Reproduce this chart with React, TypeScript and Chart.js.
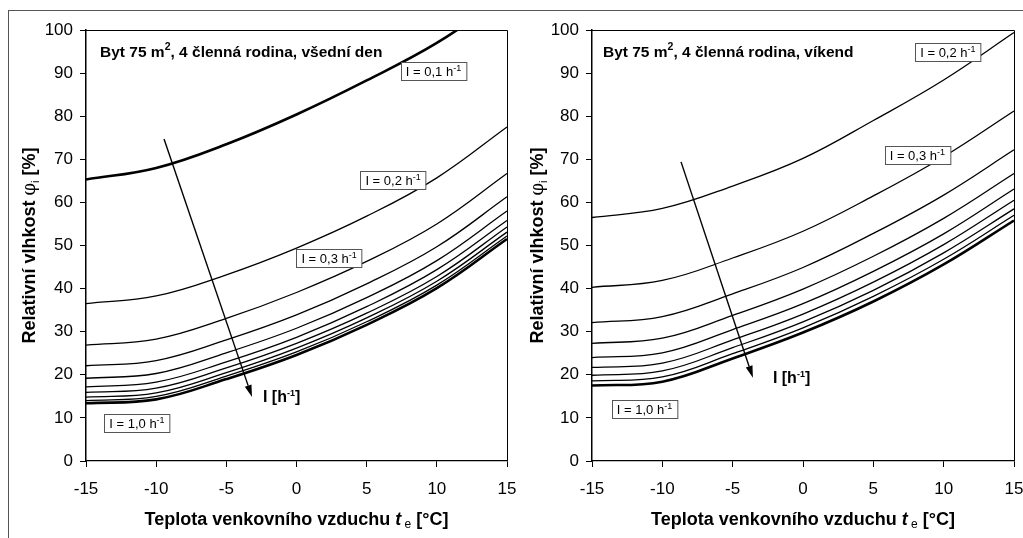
import React, { useEffect, useRef } from "react";
import { Chart, registerables } from "chart.js";

Chart.register(...registerables);

// ---------- DATA ----------
const temps = [-15, -10, -5, 0, 5, 10, 15];
const yTickStep = 10;
const xTickStep = 5;

// Weekday (všední den), air change rates I = 0.1 ... 1.0 h-1
const wdI01 = [65.3, 68.0, 73.5, 80.4, 88.3, 97.0, 108.0];
const wdI02 = [36.5, 38.3, 43.2, 49.4, 56.8, 65.7, 77.5];
const wdI03 = [26.9, 28.3, 33.1, 39.1, 46.3, 55.0, 66.7];
const wdI04 = [22.1, 23.3, 28.1, 33.9, 41.1, 49.7, 61.3];
const wdI05 = [19.2, 20.3, 25.1, 30.8, 37.9, 46.5, 58.0];
const wdI06 = [17.2, 18.3, 23.0, 28.7, 35.8, 44.4, 55.8];
const wdI07 = [15.9, 16.9, 21.6, 27.3, 34.3, 42.8, 54.3];
const wdI08 = [14.8, 15.8, 20.5, 26.2, 33.2, 41.7, 53.1];
const wdI09 = [14.0, 15.0, 19.7, 25.3, 32.3, 40.8, 52.2];
const wdI10 = [13.4, 14.3, 19.0, 24.6, 31.6, 40.1, 51.5];

// Weekend (víkend), I = 0.2 ... 1.0 h-1
const weI02 = [56.5, 58.6, 63.8, 70.2, 79.0, 88.4, 99.4];
const weI03 = [40.3, 41.9, 47.1, 53.3, 61.5, 70.6, 81.2];
const weI04 = [32.1, 33.5, 38.8, 44.9, 52.8, 61.7, 72.2];
const weI05 = [27.3, 28.5, 33.8, 39.9, 47.5, 56.3, 66.7];
const weI06 = [24.0, 25.1, 30.5, 36.5, 44.0, 52.7, 63.1];
const weI07 = [21.7, 22.7, 28.1, 34.1, 41.5, 50.2, 60.5];
const weI08 = [19.9, 20.9, 26.3, 32.3, 39.6, 48.3, 58.5];
const weI09 = [18.6, 19.5, 24.9, 30.9, 38.2, 46.8, 57.0];
const weI10 = [17.5, 18.4, 23.8, 29.8, 37.0, 45.6, 55.8];

const weekdaySeries = [wdI01, wdI02, wdI03, wdI04, wdI05, wdI06, wdI07, wdI08, wdI09, wdI10];
const weekendSeries = [weI02, weI03, weI04, weI05, weI06, weI07, weI08, weI09, weI10];

const weekdayTitle = ["Byt 75 m", "2", ", 4 členná rodina, všední den"];
const weekendTitle = ["Byt 75 m", "2", ", 4 členná rodina, víkend"];

const weekdayLabels = ["I = 0,1 h", "I = 0,2 h", "I = 0,3 h", "I = 1,0 h"];
const weekendLabels = ["I = 0,2 h", "I = 0,3 h", "I = 1,0 h"];

const xTitle = ["Teplota venkovního vzduchu ", "t", " e", " [°C]"];
const yTitle = ["Relativní vlhkost ", "φ", "i", " [%]"];
const arrowText = ["I [h", "-1", "]"];

// ---------- STYLE / LAYOUT ----------
const FF = '"Liberation Sans", Arial, Helvetica, sans-serif';
const bold = (n: number) => `bold ${n}px ${FF}`;
const reg = (n: number) => `${n}px ${FF}`;

type Seg = { t: string; f: string; dy?: number };

function segWidth(ctx: CanvasRenderingContext2D, segs: Seg[]) {
  let w = 0;
  for (const s of segs) {
    ctx.font = s.f;
    w += ctx.measureText(s.t).width;
  }
  return w;
}

function drawSegs(ctx: CanvasRenderingContext2D, segs: Seg[], x: number, y: number, align: "left" | "center") {
  const w = segWidth(ctx, segs);
  let cx = align === "center" ? x - w / 2 : x;
  ctx.textAlign = "left";
  ctx.textBaseline = "alphabetic";
  ctx.fillStyle = "#000";
  for (const s of segs) {
    ctx.font = s.f;
    ctx.fillText(s.t, cx, y + (s.dy || 0));
    cx += ctx.measureText(s.t).width;
  }
  return w;
}

type Panel = {
  series: number[][];
  thick: boolean[];
  yAxisW: number;
  padRight: number;
  title: string[];
  titlePos: [number, number];
  boxes: { text: string; x: number; y: number }[];
  arrow: [number, number, number, number];
  arrowLabel: [number, number];
  yTitleX: number;
};

const leftPanel: Panel = {
  series: weekdaySeries,
  thick: weekdaySeries.map((_, i) => i === 0 || i === weekdaySeries.length - 1),
  yAxisW: 86,
  padRight: 23,
  title: weekdayTitle,
  titlePos: [-14.0, 93.7],
  boxes: [
    { text: weekdayLabels[0], x: 9.76, y: 90.4 },
    { text: weekdayLabels[1], x: 6.88, y: 65.1 },
    { text: weekdayLabels[2], x: 2.32, y: 47.0 },
    { text: weekdayLabels[3], x: -11.37, y: 8.8 },
  ],
  arrow: [-9.44, 74.7, -3.17, 14.85],
  arrowLabel: [-2.39, 15.1],
  yTitleX: 28,
};

const rightPanel: Panel = {
  series: weekendSeries,
  thick: weekendSeries.map((_, i) => i === weekendSeries.length - 1),
  yAxisW: 80,
  padRight: 28,
  title: weekendTitle,
  titlePos: [-14.22, 93.7],
  boxes: [
    { text: weekendLabels[0], x: 10.3, y: 95.0 },
    { text: weekendLabels[1], x: 8.13, y: 70.9 },
    { text: weekendLabels[2], x: -11.27, y: 12.1 },
  ],
  arrow: [-8.67, 69.4, -3.56, 19.3],
  arrowLabel: [-2.14, 19.5],
  yTitleX: 24,
};

function makeChart(canvas: HTMLCanvasElement, p: Panel) {
  const annotate = {
    id: "annotate",
    afterDatasetsDraw(chart: any) {
      const ctx: CanvasRenderingContext2D = chart.ctx;
      const xs = chart.scales.x;
      const ys = chart.scales.y;
      const ca = chart.chartArea;
      ctx.save();
      // frame top/right
      ctx.strokeStyle = "#000";
      ctx.lineWidth = 1;
      ctx.beginPath();
      ctx.moveTo(ca.left, ca.top + 0.5);
      ctx.lineTo(ca.right + 0.5, ca.top + 0.5);
      ctx.lineTo(ca.right + 0.5, ca.bottom);
      ctx.stroke();

      // arrow
      const [ax1, ay1, ax2, ay2] = p.arrow;
      const x1 = xs.getPixelForValue(ax1), y1 = ys.getPixelForValue(ay1);
      const x2 = xs.getPixelForValue(ax2), y2 = ys.getPixelForValue(ay2);
      const ang = Math.atan2(y2 - y1, x2 - x1);
      const hl = 12, hw = 3.5;
      const bx = x2 - hl * Math.cos(ang), by = y2 - hl * Math.sin(ang);
      ctx.lineWidth = 1.4;
      ctx.beginPath();
      ctx.moveTo(x1, y1);
      ctx.lineTo(bx, by);
      ctx.stroke();
      ctx.fillStyle = "#000";
      ctx.beginPath();
      ctx.moveTo(x2, y2);
      ctx.lineTo(bx + hw * Math.sin(ang), by - hw * Math.cos(ang));
      ctx.lineTo(bx - hw * Math.sin(ang), by + hw * Math.cos(ang));
      ctx.closePath();
      ctx.fill();

      // arrow label
      const lx = xs.getPixelForValue(p.arrowLabel[0]);
      const ly = ys.getPixelForValue(p.arrowLabel[1]);
      drawSegs(ctx, [
        { t: arrowText[0], f: bold(16) },
        { t: arrowText[1], f: bold(9), dy: -6 },
        { t: arrowText[2], f: bold(16) },
      ], lx, ly + 6, "left");

      // title
      const tx = xs.getPixelForValue(p.titlePos[0]);
      const ty = ys.getPixelForValue(p.titlePos[1]);
      drawSegs(ctx, [
        { t: p.title[0], f: bold(15.5) },
        { t: p.title[1], f: bold(10.5), dy: -7 },
        { t: p.title[2], f: bold(15.5) },
      ], tx, ty, "left");

      // boxes
      for (const b of p.boxes) {
        const segs: Seg[] = [
          { t: b.text, f: reg(13) },
          { t: "-1", f: reg(9), dy: -5 },
        ];
        const w = segWidth(ctx, segs) + 10;
        const h = 18;
        const cx = xs.getPixelForValue(b.x);
        const cy = ys.getPixelForValue(b.y);
        const left = Math.round(cx - w / 2) + 0.5;
        const top = Math.round(cy - h / 2) + 0.5;
        ctx.fillStyle = "#fff";
        ctx.fillRect(left, top, w, h);
        ctx.strokeStyle = "#555";
        ctx.lineWidth = 1;
        ctx.strokeRect(left, top, w, h);
        drawSegs(ctx, segs, cx, cy + 5, "center");
      }
      ctx.restore();
    },
    afterDraw(chart: any) {
      const ctx: CanvasRenderingContext2D = chart.ctx;
      const ca = chart.chartArea;
      ctx.save();
      // x-axis title
      drawSegs(ctx, [
        { t: xTitle[0], f: bold(18) },
        { t: xTitle[1], f: `italic bold 18px ${FF}` },
        { t: xTitle[2], f: reg(12), dy: 3 },
        { t: xTitle[3], f: bold(18) },
      ], (ca.left + ca.right) / 2, 525, "center");
      // y-axis title
      ctx.translate(p.yTitleX, (ca.top + ca.bottom) / 2);
      ctx.rotate(-Math.PI / 2);
      drawSegs(ctx, [
        { t: yTitle[0], f: bold(18) },
        { t: yTitle[1], f: `18px "DejaVu Serif", serif` },
        { t: yTitle[2], f: reg(11), dy: 4 },
        { t: yTitle[3], f: bold(18) },
      ], 0, 7, "center");
      ctx.restore();
    },
  };

  const datasets = p.series.map((vals, i) => ({
    data: temps.map((t, j) => ({ x: t, y: vals[j] })),
    borderColor: "#000",
    borderWidth: p.thick[i] ? 2.6 : 1.3,
    pointRadius: 0,
    fill: false,
    tension: 0.4,
  }));

  const tickFont = { family: FF, size: 17 };

  return new Chart(canvas, {
    type: "line",
    data: { datasets },
    options: {
      animation: false,
      responsive: false,
      events: [],
      layout: { padding: { left: 0, right: p.padRight, top: 30, bottom: 0 } },
      plugins: { legend: { display: false }, tooltip: { enabled: false } },
      scales: {
        x: {
          type: "linear",
          min: -15,
          max: 15,
          afterFit: (s: any) => { s.height = 77; },
          ticks: { stepSize: xTickStep, color: "#000", font: tickFont, padding: 12, maxRotation: 0, autoSkip: false },
          grid: { drawOnChartArea: false, drawTicks: true, tickLength: 6, color: "#000", lineWidth: 1 },
          border: { color: "#000", width: 1.3 },
        },
        y: {
          type: "linear",
          min: 0,
          max: 100,
          afterFit: (s: any) => { s.width = p.yAxisW; },
          ticks: { stepSize: yTickStep, color: "#000", font: tickFont, padding: 7, autoSkip: false },
          grid: { drawOnChartArea: false, drawTicks: true, tickLength: 6, color: "#000", lineWidth: 1 },
          border: { color: "#000", width: 1.5 },
        },
      },
    },
    plugins: [annotate],
  } as any);
}

export default function App() {
  const leftRef = useRef<HTMLCanvasElement>(null);
  const rightRef = useRef<HTMLCanvasElement>(null);
  useEffect(() => {
    const c1 = makeChart(leftRef.current!, leftPanel);
    const c2 = makeChart(rightRef.current!, rightPanel);
    return () => {
      c1.destroy();
      c2.destroy();
    };
  }, []);
  return (
    <div style={{ position: "fixed", left: 0, top: 0, width: 1023, height: 538, background: "#fff", overflow: "hidden" }}>
      <div
        style={{
          position: "absolute",
          left: 8,
          top: 10,
          width: 1030,
          height: 540,
          borderLeft: "1px solid #555",
          borderTop: "1px solid #555",
        }}
      />
      <canvas ref={leftRef} width={530} height={538} style={{ position: "absolute", left: 0, top: 0, width: 530, height: 538 }} />
      <canvas ref={rightRef} width={530} height={538} style={{ position: "absolute", left: 512, top: 0, width: 530, height: 538 }} />
    </div>
  );
}
